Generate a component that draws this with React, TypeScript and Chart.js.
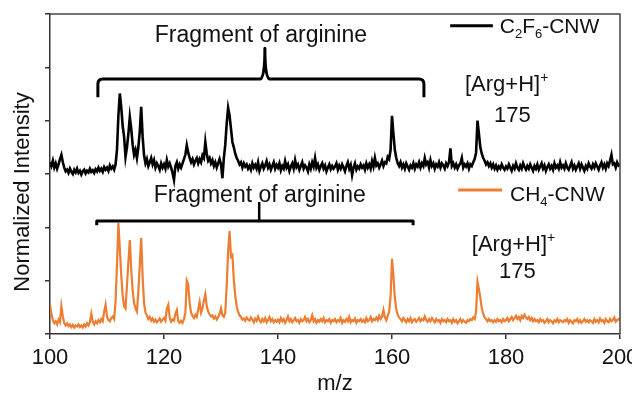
import React, { useEffect, useRef } from "react";
import { Chart, registerables } from "chart.js";
Chart.register(...registerables);

// m/z sampling grid: 100 -> 200 in 0.25 steps
const MZ_START = 100;
const MZ_STEP = 0.25;

// Normalized intensity (stacked display units, 0..6) for C2F6-CNW (upper trace)
const C2F6_CNW = [
  3.22, 3.15, 3.25, 3.12, 3.2, 3.1, 3.18, 3.28, 3.36, 3.22, 3.12, 3.05, 3.08, 3.02, 3.1, 3.04, 3.0, 3.08, 3.03, 3.1,
  3.02, 3.06, 2.99, 3.05, 3.08, 3.01, 3.06, 3.03, 3.1, 3.04, 3.07, 3.02, 3.09, 3.05, 3.12, 3.06, 3.1, 3.04, 3.13, 3.08,
  3.12, 3.06, 3.16, 3.1, 3.14, 3.08, 3.18, 3.45, 4.1, 4.51, 4.25, 3.9, 3.7, 3.32, 3.5, 3.75, 4.07, 3.85, 3.55, 3.36,
  3.45, 3.3, 3.5, 3.8, 4.26, 3.7, 3.35, 3.2, 3.28, 3.15, 3.22, 3.3, 3.18, 3.26, 3.12, 3.2, 3.15, 3.08, 3.2, 3.12,
  3.18, 3.1, 3.26, 3.14, 3.2, 3.12, 3.02, 2.89, 3.15, 3.22, 3.1, 3.18, 3.12, 3.2, 3.28, 3.36, 3.54, 3.4, 3.3, 3.22,
  3.28, 3.18, 3.25, 3.3, 3.2, 3.28, 3.22, 3.35, 3.3, 3.6, 3.38, 3.25, 3.3, 3.2, 3.26, 3.15, 3.22, 3.12, 3.2, 3.28,
  3.18, 2.92, 3.3, 3.55, 3.95, 4.24, 4.1, 3.85, 3.6, 3.5, 3.38, 3.3, 3.25, 3.18, 3.22, 3.12, 3.2, 3.14, 3.18, 3.1,
  3.15, 3.08, 3.2, 3.12, 3.17, 3.1, 3.22, 3.06, 3.14, 3.2, 3.1, 3.16, 3.24, 3.12, 3.18, 3.08, 3.15, 3.22, 3.1, 3.17,
  3.12, 3.2, 3.07, 3.15, 3.1, 3.24, 3.12, 3.18, 3.06, 3.14, 3.2, 3.1, 3.26, 3.13, 3.18, 3.08, 3.15, 3.22, 3.1, 3.16,
  3.12, 3.05, 3.18, 3.1, 3.22, 3.14, 3.3, 3.12, 3.18, 3.08, 3.15, 3.2, 3.1, 3.16, 3.05, 3.12, 3.18, 3.09, 3.15, 3.1,
  3.14, 3.2, 3.08, 3.16, 3.1, 3.18, 3.12, 3.05, 3.15, 3.22, 3.1, 3.17, 2.98, 3.12, 3.2, 3.08, 3.14, 3.1, 3.18, 3.12,
  3.16, 3.08, 3.2, 3.12, 3.18, 3.1, 3.24, 3.14, 3.3, 3.16, 3.2, 3.12, 3.18, 3.25, 3.15, 3.22, 3.2, 3.32, 3.28, 3.45,
  4.09, 3.75, 3.45, 3.3, 3.2, 3.15, 3.22, 3.12, 3.18, 3.1, 3.2, 3.14, 3.08, 3.16, 3.12, 3.2, 3.1, 3.18, 3.14, 3.22,
  3.12, 3.2, 3.15, 3.3, 3.18, 3.22, 3.12, 3.26, 3.15, 3.2, 3.1, 3.18, 3.14, 3.22, 3.12, 3.2, 3.16, 3.1, 3.2, 3.15,
  3.22, 3.48, 3.15, 3.2, 3.12, 3.18, 3.1, 3.16, 3.2, 3.3, 3.12, 3.18, 3.14, 3.2, 3.1, 3.18, 3.15, 3.22, 3.28, 3.4,
  4.0, 3.75, 3.5, 3.38, 3.3, 3.25, 3.18, 3.22, 3.15, 3.2, 3.12, 3.18, 3.1, 3.16, 3.08, 3.14, 3.1, 3.18, 3.12, 3.08,
  3.14, 3.1, 3.18, 3.12, 3.06, 3.15, 3.1, 3.2, 3.12, 3.08, 3.16, 3.1, 3.2, 3.13, 3.08, 3.15, 3.1, 3.18, 3.12, 3.06,
  3.15, 3.1, 3.18, 3.08, 3.14, 3.2, 3.1, 3.16, 3.06, 3.13, 3.18, 3.1, 3.15, 3.08, 3.2, 3.12, 3.16, 3.1, 3.22, 3.12,
  3.16, 3.1, 3.2, 3.12, 3.08, 3.15, 3.22, 3.1, 3.16, 3.08, 3.14, 3.2, 3.1, 3.18, 3.12, 3.06, 3.15, 3.1, 3.2, 3.14,
  3.1, 3.18, 3.12, 3.2, 3.14, 3.08, 3.16, 3.22, 3.12, 3.18, 3.1, 3.2, 3.15, 3.25, 3.36, 3.18, 3.2, 3.12, 3.22, 3.16,
  3.18,
];

// Normalized intensity for CH4-CNW (lower trace)
const CH4_CNW = [
  0.55, 0.38, 0.26, 0.2, 0.24, 0.18, 0.27, 0.22, 0.52, 0.33, 0.2, 0.16, 0.2, 0.15, 0.18, 0.13, 0.17, 0.12, 0.16, 0.14,
  0.18, 0.13, 0.16, 0.12, 0.18, 0.14, 0.2, 0.16, 0.22, 0.38, 0.23, 0.18, 0.24, 0.2, 0.26, 0.22, 0.28, 0.24, 0.42, 0.55,
  0.32, 0.26, 0.24, 0.3, 0.33, 0.28, 0.6, 1.3, 2.08, 1.6, 1.1, 0.72, 0.52, 0.48, 0.9, 1.35, 1.76, 1.2, 0.82, 0.58,
  0.48, 0.42, 0.8, 1.3, 1.8, 1.08, 0.58, 0.4, 0.35, 0.28, 0.32, 0.25, 0.29, 0.23, 0.27, 0.22, 0.25, 0.29, 0.23, 0.27,
  0.3, 0.25, 0.48, 0.55, 0.3, 0.23, 0.27, 0.25, 0.38, 0.45, 0.24, 0.21, 0.25, 0.21, 0.28, 0.4, 1.0, 0.93, 0.58, 0.4,
  0.34, 0.3, 0.36, 0.32, 0.46, 0.6, 0.4, 0.48, 0.63, 0.75, 0.52, 0.42, 0.37, 0.33, 0.35, 0.29, 0.33, 0.27, 0.31, 0.38,
  0.48, 0.35, 0.32, 0.4, 0.9, 1.55, 1.93, 1.45, 1.48, 1.02, 0.72, 0.52, 0.42, 0.35, 0.32, 0.27, 0.29, 0.25, 0.31, 0.27,
  0.25, 0.31, 0.27, 0.22, 0.29, 0.25, 0.33, 0.26, 0.22, 0.28, 0.24, 0.3, 0.22, 0.26, 0.32, 0.24, 0.28, 0.22, 0.26, 0.23,
  0.27, 0.22, 0.3, 0.24, 0.28, 0.21, 0.26, 0.33, 0.24, 0.28, 0.22, 0.26, 0.3, 0.24, 0.26, 0.21, 0.28, 0.24, 0.26, 0.32,
  0.24, 0.28, 0.22, 0.26, 0.35, 0.24, 0.28, 0.21, 0.26, 0.23, 0.28, 0.24, 0.3, 0.22, 0.26, 0.24, 0.28, 0.21, 0.26, 0.24,
  0.28, 0.22, 0.26, 0.24, 0.3, 0.21, 0.26, 0.23, 0.28, 0.24, 0.32, 0.22, 0.26, 0.24, 0.29, 0.21, 0.26, 0.24, 0.28, 0.23,
  0.26, 0.22, 0.3, 0.24, 0.26, 0.32, 0.24, 0.28, 0.26, 0.31, 0.26, 0.34, 0.28, 0.32, 0.45, 0.31, 0.26, 0.34, 0.42, 0.7,
  1.41, 1.08, 0.68, 0.46, 0.36, 0.31, 0.28, 0.24, 0.3, 0.26, 0.22, 0.28, 0.24, 0.3, 0.22, 0.26, 0.28, 0.23, 0.26, 0.3,
  0.24, 0.28, 0.26, 0.33, 0.26, 0.23, 0.28, 0.24, 0.3, 0.26, 0.22, 0.28, 0.24, 0.26, 0.21, 0.28, 0.24, 0.26, 0.22, 0.28,
  0.24, 0.26, 0.21, 0.28, 0.23, 0.26, 0.2, 0.24, 0.28, 0.22, 0.26, 0.23, 0.21, 0.26, 0.24, 0.28, 0.26, 0.31, 0.28, 0.42,
  0.98, 0.84, 0.68, 0.48, 0.38, 0.31, 0.28, 0.24, 0.28, 0.24, 0.26, 0.22, 0.26, 0.23, 0.28, 0.24, 0.26, 0.22, 0.28, 0.24,
  0.26, 0.3, 0.24, 0.28, 0.32, 0.26, 0.3, 0.34, 0.28, 0.32, 0.26, 0.34, 0.3, 0.36, 0.31, 0.28, 0.32, 0.26, 0.3, 0.24,
  0.28, 0.24, 0.26, 0.22, 0.28, 0.24, 0.26, 0.21, 0.24, 0.28, 0.22, 0.26, 0.24, 0.2, 0.26, 0.23, 0.28, 0.22, 0.26, 0.24,
  0.22, 0.26, 0.24, 0.28, 0.21, 0.26, 0.23, 0.2, 0.26, 0.24, 0.28, 0.22, 0.26, 0.21, 0.24, 0.28, 0.23, 0.26, 0.22, 0.26,
  0.24, 0.21, 0.28, 0.23, 0.26, 0.22, 0.29, 0.24, 0.26, 0.21, 0.28, 0.24, 0.22, 0.28, 0.24, 0.26, 0.31, 0.23, 0.26, 0.28,
  0.26,
];

const X_MIN = 100;
const X_MAX = 200;
const X_STEP = 20;
const Y_MIN = 0;
const Y_MAX = 6;

const FONT = '"Liberation Sans", Arial, Helvetica, sans-serif';
const INK = "#111";
const BLACK = "#000000";
const ORANGE = "#ED7D31";

type Part = [string, "" | "sub" | "sup"];
const LEGEND_TOP: Part[] = [["C", ""], ["2", "sub"], ["F", ""], ["6", "sub"], ["-CNW", ""]];
const LEGEND_BOTTOM: Part[] = [["CH", ""], ["4", "sub"], ["-CNW", ""]];
const ION_LABEL: Part[] = [["[Arg+H]", ""], ["+", "sup"]];

function drawParts(ctx: CanvasRenderingContext2D, parts: Part[], x: number, y: number, size: number, align: "left" | "center" = "left") {
  const small = Math.round(size * 0.62);
  let total = 0;
  for (const [t, k] of parts) {
    ctx.font = `${k ? small : size}px ${FONT}`;
    total += ctx.measureText(t).width;
  }
  let cx = align === "center" ? x - total / 2 : x;
  ctx.textAlign = "left";
  ctx.textBaseline = "alphabetic";
  for (const [t, k] of parts) {
    ctx.font = `${k ? small : size}px ${FONT}`;
    const dy = k === "sub" ? size * 0.22 : k === "sup" ? -size * 0.42 : 0;
    ctx.fillText(t, cx, y + dy);
    cx += ctx.measureText(t).width;
  }
}

const annotPlugin = {
  id: "annot",
  afterDraw(chart: any) {
    const { ctx, chartArea: a, scales } = chart;
    const X = (v: number) => scales.x.getPixelForValue(v);
    const Y = (v: number) => scales.y.getPixelForValue(v);
    ctx.save();

    // top / right frame
    ctx.strokeStyle = "#444";
    ctx.lineWidth = 1.5;
    ctx.beginPath();
    ctx.moveTo(a.left, a.top);
    ctx.lineTo(a.right, a.top);
    ctx.lineTo(a.right, a.bottom);
    ctx.stroke();

    ctx.fillStyle = INK;
    ctx.strokeStyle = BLACK;

    // upper bracket (curly)
    {
      const xL = X(108.4), xR = X(165.6), xC = X(137.7);
      const yH = Y(4.78), yE = Y(4.44), yT = Y(5.36);
      const r = 5;
      ctx.lineWidth = 3;
      ctx.lineJoin = "round";
      ctx.beginPath();
      ctx.moveTo(xL, yE);
      ctx.lineTo(xL, yH + r);
      ctx.quadraticCurveTo(xL, yH, xL + r, yH);
      ctx.lineTo(xC - 5, yH);
      ctx.quadraticCurveTo(xC, yH, xC, yT);
      ctx.quadraticCurveTo(xC, yH, xC + 5, yH);
      ctx.lineTo(xR - r, yH);
      ctx.quadraticCurveTo(xR, yH, xR, yH + r);
      ctx.lineTo(xR, yE);
      ctx.stroke();
    }
    // lower bracket
    {
      const xL = X(108.2), xR = X(163.7), xC = X(136.7);
      const yH = Y(2.12), yE = Y(2.04), yT = Y(2.475);
      ctx.lineWidth = 3;
      ctx.beginPath();
      ctx.moveTo(xL, yE);
      ctx.lineTo(xL, yH);
      ctx.lineTo(xR, yH);
      ctx.lineTo(xR, yE);
      ctx.stroke();
      ctx.lineWidth = 2.5;
      ctx.beginPath();
      ctx.moveTo(xC, yH);
      ctx.lineTo(xC, yT);
      ctx.stroke();
    }

    // fragment labels
    ctx.font = `23px ${FONT}`;
    ctx.textAlign = "center";
    ctx.textBaseline = "alphabetic";
    ctx.fillText("Fragment of arginine", X(137.0), Y(5.475));
    ctx.fillText("Fragment of arginine", X(136.8), Y(2.475));

    // ion labels
    drawParts(ctx, ION_LABEL, X(172.8), Y(4.556), 22);
    ctx.font = `22px ${FONT}`;
    ctx.textAlign = "center";
    ctx.fillText("175", X(181.1), Y(3.975));
    drawParts(ctx, ION_LABEL, X(174.0), Y(1.556), 22);
    ctx.font = `22px ${FONT}`;
    ctx.textAlign = "center";
    ctx.fillText("175", X(182.0), Y(1.05));

    // legends
    ctx.lineWidth = 3;
    ctx.strokeStyle = BLACK;
    ctx.beginPath();
    ctx.moveTo(X(170.2), Y(5.78));
    ctx.lineTo(X(177.7), Y(5.78));
    ctx.stroke();
    drawParts(ctx, LEGEND_TOP, X(178.9), Y(5.64), 21);
    ctx.strokeStyle = ORANGE;
    ctx.beginPath();
    ctx.moveTo(X(171.6), Y(2.7));
    ctx.lineTo(X(179.3), Y(2.7));
    ctx.stroke();
    drawParts(ctx, LEGEND_BOTTOM, X(180.7), Y(2.49), 21);

    // axis titles
    ctx.font = `22px ${FONT}`;
    ctx.textAlign = "center";
    ctx.textBaseline = "alphabetic";
    ctx.fillText("m/z", (a.left + a.right) / 2, 390);
    ctx.save();
    ctx.translate(23, 192);
    ctx.rotate(-Math.PI / 2);
    ctx.textBaseline = "middle";
    ctx.fillText("Normalized Intensity", 0, 0);
    ctx.restore();

    ctx.restore();
  },
};

export default function App() {
  const ref = useRef<HTMLCanvasElement>(null);
  useEffect(() => {
    const toPoints = (arr: number[]) => arr.map((v, i) => ({ x: MZ_START + i * MZ_STEP, y: v }));
    const axisCommon = {
      grid: { drawOnChartArea: false, drawTicks: true, tickLength: 5, color: "#333", lineWidth: 1.5 },
      border: { display: true, color: "#333", width: 1.5 },
    };
    const chart = new Chart(ref.current!, {
      type: "line",
      data: {
        datasets: [
          { label: "C2F6-CNW", data: toPoints(C2F6_CNW), borderColor: BLACK, borderWidth: 2.6, pointRadius: 0, tension: 0 },
          { label: "CH4-CNW", data: toPoints(CH4_CNW), borderColor: ORANGE, borderWidth: 2.2, pointRadius: 0, tension: 0 },
        ],
      },
      options: {
        responsive: false,
        animation: false,
        devicePixelRatio: 1,
        layout: { padding: { top: 14, right: 12, left: 0, bottom: 0 } },
        plugins: { legend: { display: false }, tooltip: { enabled: false } },
        scales: {
          x: {
            type: "linear",
            min: X_MIN,
            max: X_MAX,
            ...axisCommon,
            ticks: { stepSize: X_STEP, color: INK, font: { size: 22, family: FONT }, padding: 6, maxRotation: 0, autoSkip: false },
            afterFit: (s: any) => { s.height = 61; s.paddingLeft = 0; s.paddingRight = 0; },
          },
          y: {
            type: "linear",
            min: Y_MIN,
            max: Y_MAX,
            ...axisCommon,
            ticks: { stepSize: 1, display: false },
            afterFit: (s: any) => { s.width = 50; s.paddingTop = 0; s.paddingBottom = 0; },
          },
        },
      } as any,
      plugins: [annotPlugin],
    });
    return () => chart.destroy();
  }, []);
  return (
    <div style={{ position: "fixed", left: 0, top: 0, width: 632, height: 395, background: "#fff" }}>
      <canvas ref={ref} width={632} height={395} style={{ display: "block", width: 632, height: 395 }} />
    </div>
  );
}
